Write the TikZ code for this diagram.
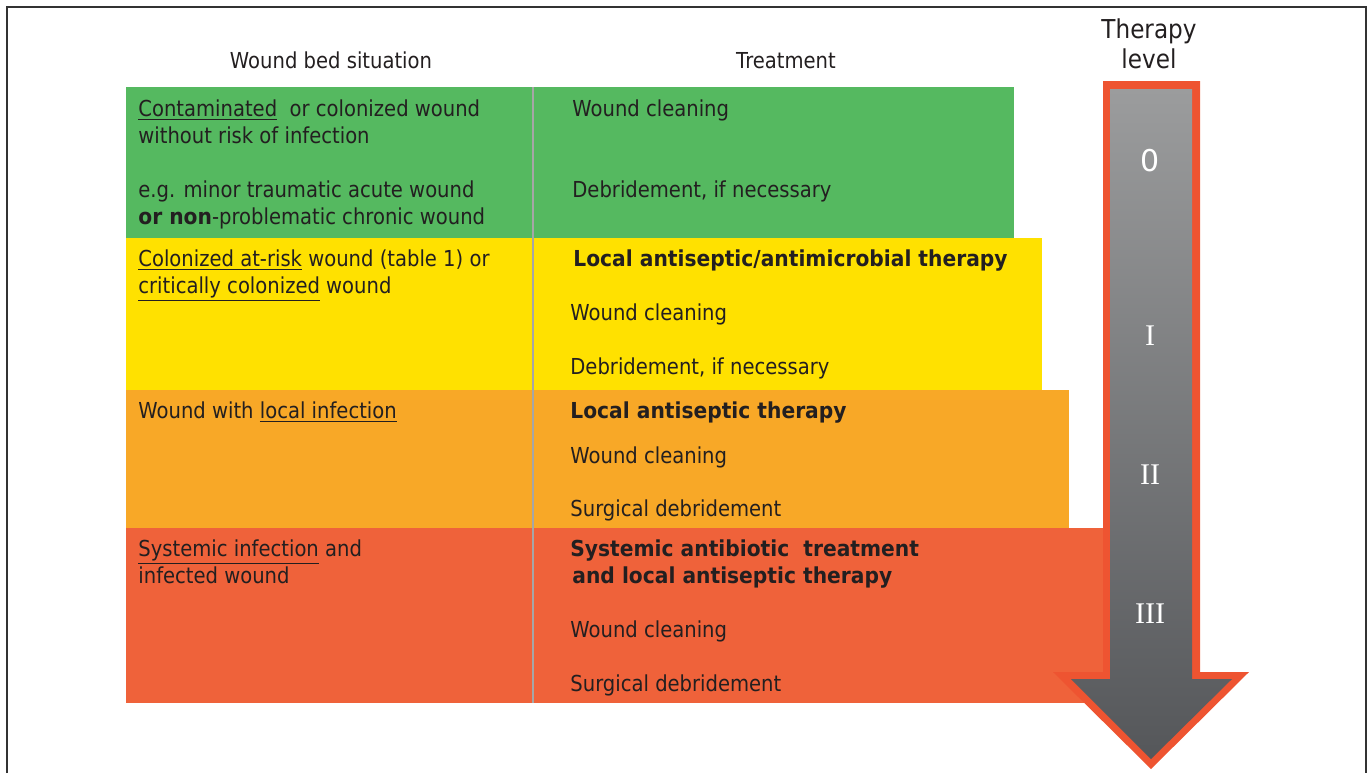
\documentclass[tikz,border=0pt]{standalone}
\usepackage{fontspec}
\setmainfont{DejaVu Sans}[FakeStretch=0.89,BoldFeatures={FakeStretch=0.92}]
\newfontfamily\numfont{Liberation Serif}
\newfontfamily\zerofont{DejaVu Sans}
\definecolor{bandgreen}{HTML}{55B960}
\definecolor{bandyellow}{HTML}{FFE100}
\definecolor{bandorange}{HTML}{F8A827}
\definecolor{bandred}{HTML}{EF623A}
\definecolor{arrowrim}{HTML}{EE5431}
\definecolor{arrowtop}{HTML}{9B9C9D}
\definecolor{arrowbot}{HTML}{55575A}
\definecolor{txt}{HTML}{231F20}
\tikzset{
  cell/.style={inner sep=0pt,anchor=base west,text=txt,font=\fontsize{11}{13.5}\selectfont},
  head/.style={inner sep=0pt,anchor=base,text=txt,font=\fontsize{11}{13.5}\selectfont},
  level/.style={inner sep=0pt,text=white,font=\numfont\fontsize{15}{15}\selectfont}
}
\begin{document}
\begin{tikzpicture}[x=0.5pt,y=-0.5pt]
        \useasboundingbox (0,0) rectangle (1367,773);
        % frame
        \draw[line width=0.8pt,black!80] (7,773) -- (7,7) -- (1366,7) -- (1366,773);
        % headers
        \node[head] (hsit) at (331,68) {Wound bed situation};
        \node[head] (htreat) at (786,68) {Treatment};
        \node[head,font=\fontsize{13}{15}\selectfont] (hlevel) at (1149,38) {Therapy};
        \node[head,font=\fontsize{13}{15}\selectfont] (hlevel2) at (1149,68) {level};
        % colour bands
        \fill[bandgreen] (126,87) rectangle (1014,238);
        \fill[bandyellow] (126,238) rectangle (1042,390);
        \fill[bandorange] (126,390) rectangle (1069,528);
        \fill[bandred] (126,528) rectangle (1105,703);
        \draw[line width=1pt,black!35] (533,87) -- (533,703);
        % level 0
        \node[cell] (s0a) at (138,116) {\underline{Contaminated}\ \ or colonized wound};
        \node[cell] (s0b) at (138,143) {without risk of infection};
        \node[cell] (s0c) at (138,197) {e.g. minor traumatic acute wound};
        \node[cell] (s0d) at (138,224) {\textbf{or non}-problematic chronic wound};
        \node[cell] (t0a) at (572,116) {Wound cleaning};
        \node[cell] (t0b) at (572,197) {Debridement, if necessary};
        % level I
        \node[cell] (s1a) at (138,266) {\underline{Colonized at-risk} wound (table 1) or};
        \node[cell] (s1b) at (138,293) {\underline{critically colonized} wound};
        \node[cell] (t1a) at (573,266) {\textbf{Local antiseptic/antimicrobial therapy}};
        \node[cell] (t1b) at (570,320) {Wound cleaning};
        \node[cell] (t1c) at (570,374) {Debridement, if necessary};
        % level II
        \node[cell] (s2a) at (138,418) {Wound with \underline{local infection}};
        \node[cell] (t2a) at (570,418) {\textbf{Local antiseptic therapy}};
        \node[cell] (t2b) at (570,463) {Wound cleaning};
        \node[cell] (t2c) at (570,516) {Surgical debridement};
        % level III
        \node[cell] (s3a) at (138,556) {\underline{Systemic infection} and};
        \node[cell] (s3b) at (138,583) {infected wound};
        \node[cell] (t3a) at (570,556) {\textbf{Systemic antibiotic\ \ treatment}};
        \node[cell] (t3b) at (572,583) {\textbf{and local antiseptic therapy}};
        \node[cell] (t3c) at (570,637) {Wound cleaning};
        \node[cell] (t3d) at (570,691) {Surgical debridement};
        % therapy arrow
        \fill[arrowrim] (1103,81) -- (1200,81) -- (1200,672) -- (1249,672) -- (1151,769) -- (1053,672) -- (1103,672) -- cycle;
        \shade[top color=arrowtop,bottom color=arrowbot] (1110,89) -- (1192,89) -- (1192,679) -- (1232,679) -- (1151,759) -- (1071,679) -- (1110,679) -- cycle;
        \node[level,font=\zerofont\fontsize{15}{15}\selectfont] (lv0) at (1150,161) {0};
        \node[level] (lv1) at (1150,336) {I};
        \node[level] (lv2) at (1150,475) {II};
        \node[level] (lv3) at (1150,614) {III};
\end{tikzpicture}
\end{document}
